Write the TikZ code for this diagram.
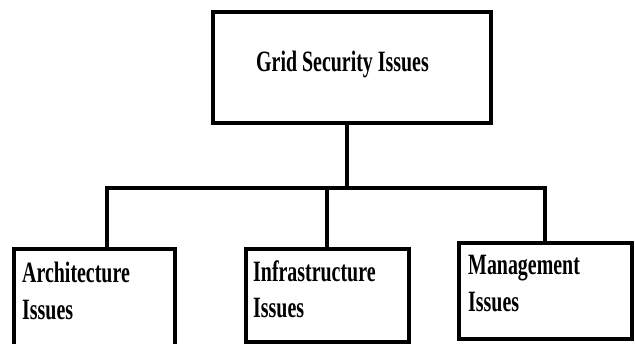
\documentclass[tikz,border=0pt]{standalone}
\usepackage{fontspec}
\setmainfont{Liberation Serif}
\usepackage{graphicx}
\begin{document}
\begin{tikzpicture}[x=1pt,y=-1pt,
  box/.style={draw=black,line width=3.6pt,rectangle,inner sep=0pt},
  wire/.style={draw=black,line width=3.6pt,line cap=rect},
  label/.style={anchor=base west,inner sep=0pt,font=\fontsize{29.5}{29.5}\selectfont\bfseries}]
\useasboundingbox (0,0) rectangle (635,344);
\clip (0,0) rectangle (635,344);
\newcommand{\squeeze}[1]{\scalebox{0.675}[1]{#1}}
% boxes
\node[box,minimum width=278pt,minimum height=111pt] (root) at (352,67.5) {};
\node[box,minimum width=161pt,minimum height=140pt] (arch) at (94.5,319) {};
\node[box,minimum width=163pt,minimum height=93pt] (infra) at (327.5,295.5) {};
\node[box,minimum width=173pt,minimum height=96pt] (mgmt) at (545.5,291) {};
% labels
\node[label] (tRoot) at (256,72) {\squeeze{Grid Security Issues}};
\node[label] (tArch1) at (22,283) {\squeeze{Architecture}};
\node[label] (tArch2) at (22,320) {\squeeze{Issues}};
\node[label] (tInfra1) at (253,282) {\squeeze{Infrastructure}};
\node[label] (tInfra2) at (253,318) {\squeeze{Issues}};
\node[label] (tMgmt1) at (468,275) {\squeeze{Management}};
\node[label] (tMgmt2) at (468,312) {\squeeze{Issues}};
% tree connectors
\coordinate (busL) at (107,188);
\coordinate (busM) at (327,188);
\coordinate (busR) at (545,188);
\coordinate (busTop) at (347,188);
\draw[wire] (root.south -| busTop) -- (busTop);
\draw[wire] (busL) -- (busR);
\draw[wire] (busL) -- (busL |- arch.north);
\draw[wire] (busM) -- (busM |- infra.north);
\draw[wire] (busR) -- (busR |- mgmt.north);
\end{tikzpicture}
\end{document}
